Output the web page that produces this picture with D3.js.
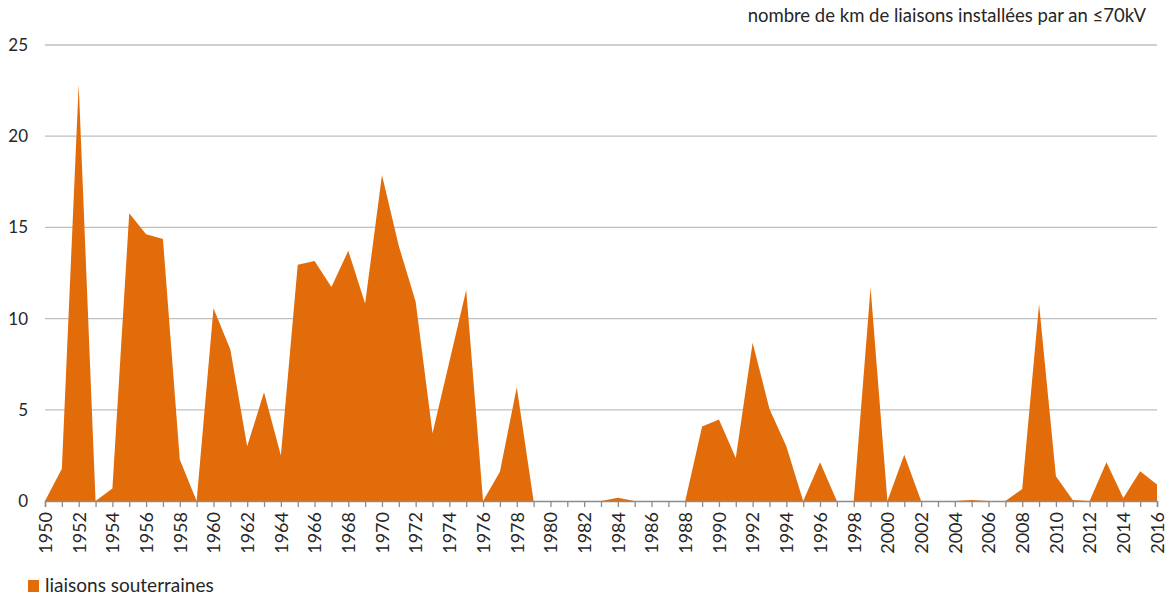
<!DOCTYPE html>
<html><head><meta charset="utf-8">
<script src="https://cdn.jsdelivr.net/npm/d3@7"></script>
<style>
body{margin:0;background:#fff;}
text{font-family:Lato, "Open Sans", sans-serif;fill:#262626;}
</style></head>
<body><svg id="c" width="1172" height="597"></svg>
<script>
const years = d3.range(1950, 2017);
const values = [0,1.77,22.84,0,0.69,15.77,14.62,14.37,2.28,0,
10.57,8.3,3.0,5.96,2.5,12.95,13.16,11.73,13.72,10.83,
17.87,13.98,10.93,3.71,7.64,11.57,0,1.61,6.23,0,
0,0,0,0,0.18,0,0,0,0,4.08,
4.47,2.36,8.68,5.05,3.0,0,2.12,0,0,11.7,
0,2.53,0,0,0,0.05,0,0,0.66,10.8,
1.36,0.05,0,2.12,0.16,1.63,0.9];
const yTicks = [0,5,10,15,20,25];
const title = "nombre de km de liaisons installées par an ≤70kV";
const seriesName = "liaisons souterraines";

const svg = d3.select("#c");
const x = d3.scaleLinear().domain([1950,2016]).range([45,1157]);
const y = d3.scaleLinear().domain([0,25]).range([501,45]);

// gridlines
svg.append("g").selectAll("line").data(yTicks.filter(d=>d>0)).join("line")
  .attr("x1",45).attr("x2",1157).attr("y1",d=>y(d)).attr("y2",d=>y(d))
  .attr("stroke","#bfbfbf").attr("stroke-width",1.3);

// y labels
svg.append("g").selectAll("text").data(yTicks).join("text")
  .attr("x",28).attr("y",d=>y(d)+6).attr("text-anchor","end")
  .style("font-size","17px").text(d=>d);

// area
const data = years.map((yr,i)=>({yr, v:values[i]}));
svg.append("path").datum(data)
  .attr("fill","#e36c0a")
  .attr("d", d3.area().x(d=>x(d.yr)).y0(y(0)).y1(d=>y(d.v)));

// x axis
const xa = svg.append("g").attr("transform",`translate(0,${y(0)})`)
  .call(d3.axisBottom(x).tickValues(years).tickSize(6).tickFormat(d=> (d%2===0? d : "")));
xa.select(".domain").attr("stroke","#8c8c8c").attr("stroke-width",1.5);
xa.selectAll(".tick line").attr("stroke","#8c8c8c").attr("stroke-width",1.3);
xa.selectAll(".tick text")
  .attr("transform","rotate(-90)")
  .attr("x",-11).attr("y",0).attr("dy","0.35em")
  .attr("text-anchor","end")
  .style("font-size","18px").style("font-family","Lato, 'Open Sans', sans-serif").attr("fill","#262626");

// title
svg.append("text").attr("x",1146).attr("y",22).attr("text-anchor","end")
  .style("font-size","18.5px").text(title);

// legend
svg.append("rect").attr("x",28).attr("y",580).attr("width",11).attr("height",12).attr("fill","#e36c0a");
svg.append("text").attr("x",45).attr("y",592).style("font-size","19px").text(seriesName);
</script></body></html>
